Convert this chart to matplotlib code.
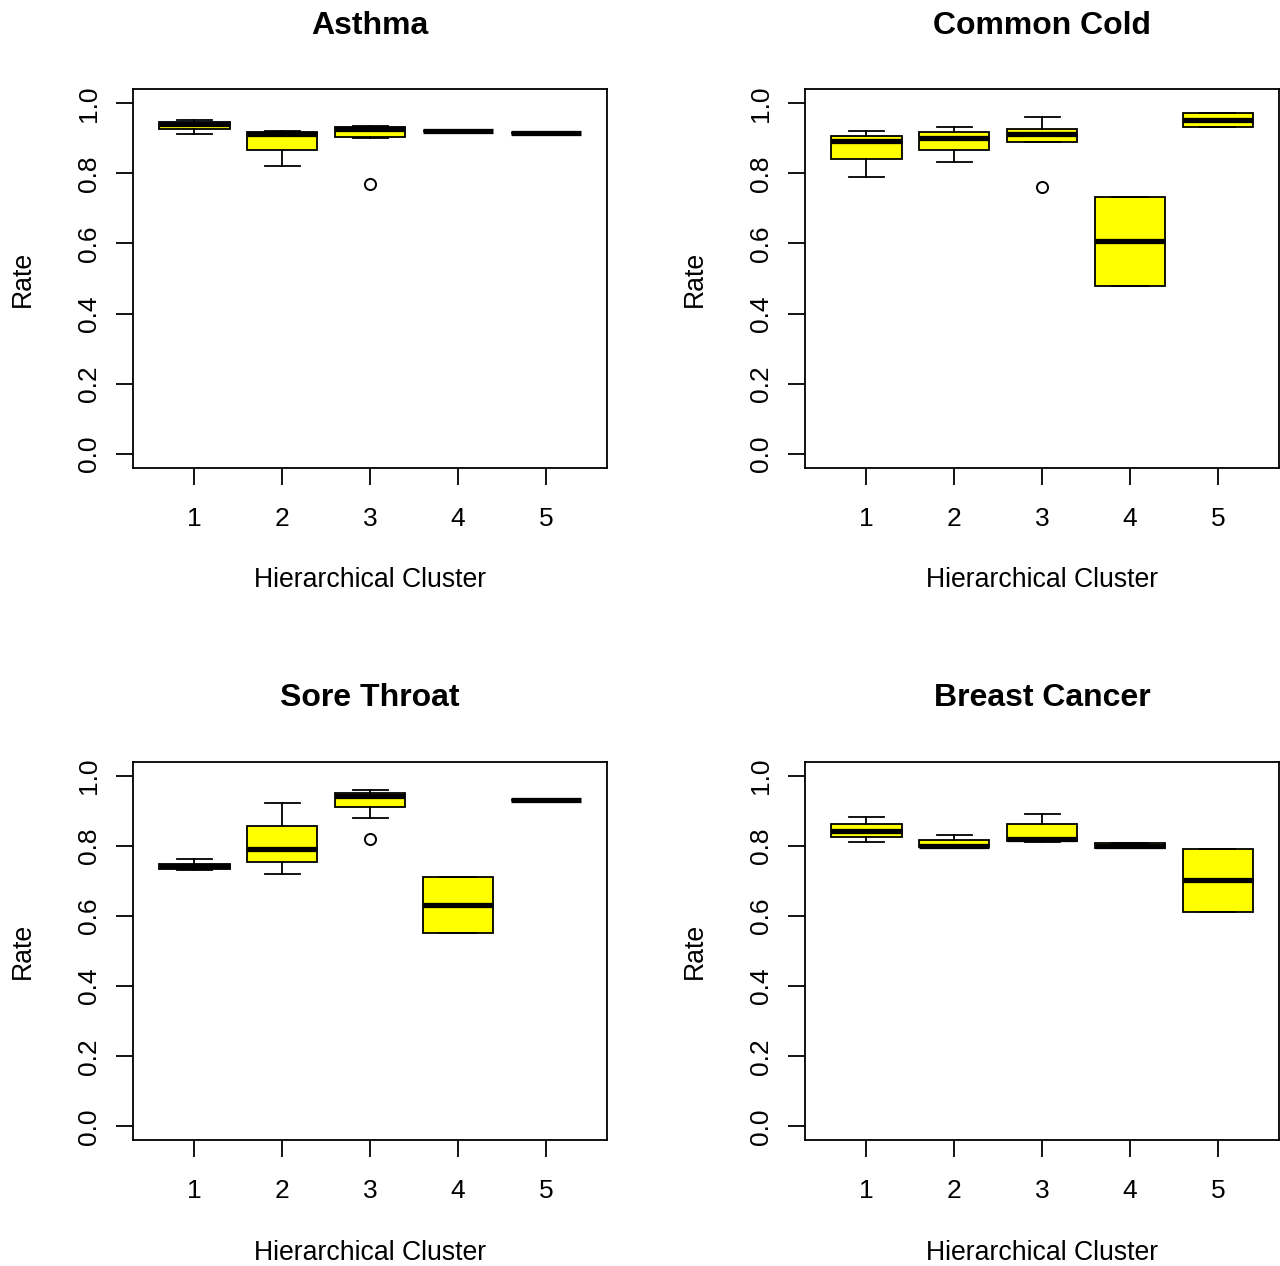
import matplotlib
matplotlib.use('Agg')
import matplotlib.pyplot as plt

plt.rcParams['font.family'] = ['Liberation Sans', 'DejaVu Sans']

titles = ['Asthma', 'Common Cold', 'Sore Throat', 'Breast Cancer']
clusters = [1, 2, 3, 4, 5]

# box stats per disease (rows) and cluster (columns)
whislo = [
    [0.913, 0.822, 0.902, 0.922, 0.916],
    [0.791, 0.832, 0.891, 0.480, 0.931],
    [0.731, 0.721, 0.881, 0.551, 0.932],
    [0.811, 0.796, 0.812, 0.795, 0.611],
]
q1 = [
    [0.926, 0.866, 0.905, 0.922, 0.916],
    [0.841, 0.866, 0.891, 0.480, 0.931],
    [0.735, 0.756, 0.911, 0.551, 0.932],
    [0.826, 0.796, 0.815, 0.795, 0.611],
]
med = [
    [0.942, 0.912, 0.926, 0.922, 0.916],
    [0.893, 0.902, 0.911, 0.607, 0.951],
    [0.742, 0.791, 0.943, 0.631, 0.932],
    [0.843, 0.801, 0.821, 0.800, 0.702],
]
q3 = [
    [0.948, 0.919, 0.933, 0.922, 0.916],
    [0.908, 0.917, 0.927, 0.732, 0.971],
    [0.750, 0.857, 0.952, 0.711, 0.932],
    [0.863, 0.817, 0.863, 0.808, 0.792],
]
whishi = [
    [0.952, 0.922, 0.935, 0.922, 0.916],
    [0.922, 0.931, 0.960, 0.732, 0.971],
    [0.762, 0.922, 0.960, 0.711, 0.932],
    [0.882, 0.831, 0.892, 0.808, 0.792],
]
outliers = [
    [[], [], [0.771], [], []],
    [[], [], [0.761], [], []],
    [[], [], [0.821], [], []],
    [[], [], [], [], []],
]

fig = plt.figure(figsize=(12.8, 12.66), dpi=100)

W, H = 1280, 1266
ax_w, ax_h = 474.3, 378.4
lefts = [133, 805]
tops = [89.3, 762]

for i, title in enumerate(titles):
    left = lefts[i % 2]
    top = tops[i // 2]
    ax = fig.add_axes([left / W, (H - top - ax_h) / H, ax_w / W, ax_h / H])

    stats = []
    for j, c in enumerate(clusters):
        stats.append({
            'whislo': whislo[i][j], 'q1': q1[i][j], 'med': med[i][j],
            'q3': q3[i][j], 'whishi': whishi[i][j], 'fliers': outliers[i][j],
        })

    ax.bxp(stats, positions=clusters, widths=0.8, patch_artist=True,
           showfliers=True,
           boxprops=dict(facecolor='#ffff00', edgecolor='black', linewidth=1.3),
           medianprops=dict(color='black', linewidth=3.8, solid_capstyle='butt'),
           whiskerprops=dict(color='black', linewidth=1.3),
           capprops=dict(color='black', linewidth=1.3),
           capwidths=0.4,
           flierprops=dict(marker='o', markerfacecolor='none', markeredgecolor='black',
                           markersize=8, markeredgewidth=1.4))

    ax.set_xlim(0.3, 5.7)
    ax.set_ylim(-0.04, 1.04)
    ax.set_yticks([0.0, 0.2, 0.4, 0.6, 0.8, 1.0])
    ax.set_yticklabels(['0.0', '0.2', '0.4', '0.6', '0.8', '1.0'])
    ax.set_xticks(clusters)
    ax.set_xticklabels([str(c) for c in clusters])
    ax.tick_params(axis='both', length=12, width=1.3, labelsize=19)
    ax.tick_params(axis='x', pad=16)
    ax.tick_params(axis='y', labelrotation=90, pad=11)
    for lbl in ax.get_yticklabels():
        lbl.set_va('center')
    for s in ax.spines.values():
        s.set_linewidth(1.3)

    ax.text(0.5, 1.168, title, transform=ax.transAxes, ha='center', va='center',
            fontsize=23, fontweight='bold')
    ax.text(0.5, -0.297, 'Hierarchical Cluster', transform=ax.transAxes,
            ha='center', va='center', fontsize=19.2)
    ax.text(-0.232, 0.5, 'Rate', transform=ax.transAxes, ha='center', va='center',
            rotation=90, fontsize=19.2)

fig.savefig('out.png', dpi=100)
